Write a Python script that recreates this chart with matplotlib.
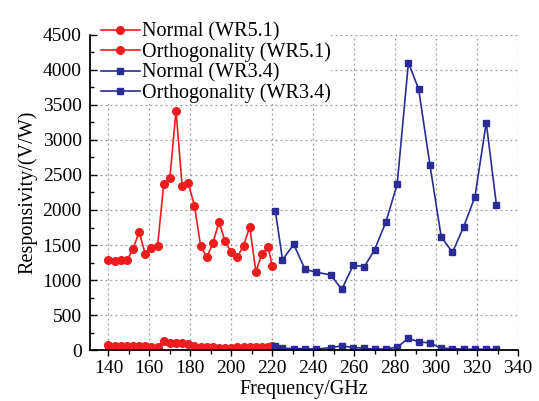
import matplotlib
matplotlib.use("Agg")
import matplotlib.pyplot as plt
from matplotlib.ticker import MultipleLocator

# WR5.1 band (red)
freq_wr51 = [140, 143, 146, 149, 152, 155, 158, 161, 164, 167, 170, 173, 176, 179,
             182, 185, 188, 191, 194, 197, 200, 203, 206, 209, 212, 215, 218, 220]
normal_wr51 = [1281, 1271, 1281, 1281, 1443, 1690, 1367, 1462, 1486, 2371, 2457, 3419, 2338, 2381,
               2062, 1490, 1324, 1524, 1833, 1552, 1395, 1333, 1490, 1762, 1119, 1376, 1467, 1200]
ortho_wr51 = [74, 55, 55, 60, 64, 64, 55, 50, 50, 126, 98, 102, 107, 83,
              64, 50, 45, 40, 36, 36, 36, 38, 40, 38, 40, 45, 45, 55]

# WR3.4 band (blue)
freq_wr34 = [221.5, 225, 230.5, 236, 241.5, 248.5, 254, 259.5, 265, 270, 275.5,
             281, 286.5, 291.5, 297, 302.5, 308, 313.5, 319, 324.5, 329.5]
normal_wr34 = [1990, 1290, 1510, 1152, 1112, 1073, 867, 1210, 1191, 1433, 1829,
               2367, 4104, 3724, 2643, 1619, 1395, 1762, 2190, 3248, 2067]
ortho_wr34 = [55, 26, 21, 21, 12, 36, 60, 36, 26, 12, 17,
              40, 169, 117, 102, 26, 21, 12, 12, 12, 12]

labels = ["Normal (WR5.1)", "Orthogonality (WR5.1)", "Normal (WR3.4)", "Orthogonality (WR3.4)"]


def main():
    plt.rcParams['font.family'] = ['Liberation Serif', 'DejaVu Serif']
    red = '#ee1c1f'
    blue = '#2b2b96'

    fig = plt.figure(figsize=(5.39, 4.01), dpi=100)
    ax = fig.add_axes([0.167, 0.127, 0.794, 0.786])

    ax.plot(freq_wr51, normal_wr51, color=red, lw=1.2, marker='o', ms=5.5, label=labels[0])
    ax.plot(freq_wr51, ortho_wr51, color=red, lw=1.2, marker='o', ms=5.5, label=labels[1])
    ax.plot(freq_wr34, normal_wr34, color=blue, lw=1.2, marker='s', ms=4.5, label=labels[2])
    ax.plot(freq_wr34, ortho_wr34, color=blue, lw=1.2, marker='s', ms=4.5, label=labels[3])

    ax.set_xlim(131, 340)
    ax.set_ylim(0, 4500)
    ax.xaxis.set_major_locator(MultipleLocator(20))
    ax.xaxis.set_minor_locator(MultipleLocator(10))
    ax.yaxis.set_major_locator(MultipleLocator(500))
    ax.yaxis.set_minor_locator(MultipleLocator(250))
    ax.set_xticks(range(140, 341, 20))

    ax.tick_params(axis='x', which='major', direction='out', length=4, width=1, labelsize=14, pad=3)
    ax.tick_params(axis='x', which='minor', direction='out', length=3, width=1)
    ax.tick_params(axis='y', which='major', direction='in', length=5, width=1, labelsize=14, pad=6)
    ax.tick_params(axis='y', which='minor', direction='in', length=3, width=1)

    ax.spines['top'].set_visible(False)
    ax.spines['right'].set_visible(False)
    ax.spines['left'].set_linewidth(1.3)
    ax.spines['bottom'].set_linewidth(1.3)

    ax.grid(True, which='major', color='#9a9a9a', linestyle=(0, (1.5, 2.5)), linewidth=0.9)
    ax.set_axisbelow(True)

    ax.set_xlabel("Frequency/GHz", fontsize=14.5, labelpad=2.5)
    ax.set_ylabel("Responsivity/(V/W)", fontsize=14.5, labelpad=4)

    leg = ax.legend(loc='upper left', bbox_to_anchor=(0.024, 1.043), frameon=True,
                    fontsize=14.5, handlelength=1.9, handletextpad=0.1,
                    labelspacing=0.05, borderpad=0.05, borderaxespad=0.0)
    leg.get_frame().set_edgecolor('none')
    leg.get_frame().set_facecolor('white')
    leg.get_frame().set_alpha(1.0)

    fig.savefig("out.png", dpi=100)


if __name__ == '__main__':
    main()
